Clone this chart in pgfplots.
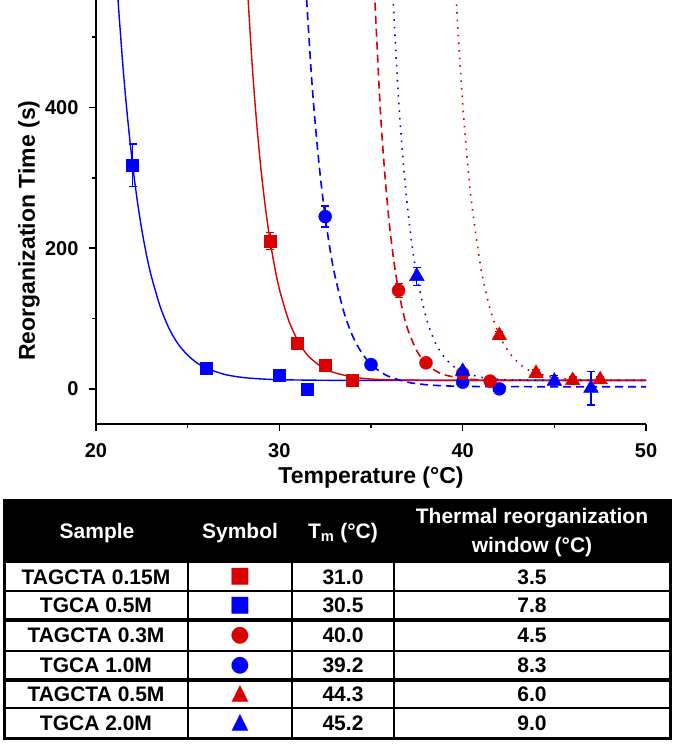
\documentclass[border=0pt]{standalone}
\usepackage{pgfplots}
\pgfplotsset{compat=1.18}
\usepackage{fontspec}
\setmainfont{Liberation Sans}
\newfontfamily\symfont{DejaVu Sans}
\definecolor{myred}{RGB}{218,0,0}
\definecolor{myblue}{RGB}{0,0,255}
\newcommand{\tabfont}{\fontsize{21}{29}\selectfont\bfseries}
\begin{document}
\begin{tikzpicture}[x=1pt,y=1pt]
\path[use as bounding box] (0,0) rectangle (677,-746);
\begin{axis}[
  at={(96pt,-424pt)}, anchor=south west,
  width=550pt, height=424pt, scale only axis,
  xmin=20, xmax=50, ymin=-50, ymax=553,
  axis x line*=bottom, axis y line*=left,
  axis line style={line width=2.2pt,-},
  xtick={20,30,40,50}, ytick={0,200,400},
  minor xtick={25,35,45}, minor ytick={100,300,500},
  tick align=outside,
  major tick length=7pt, minor tick length=4pt,
  every tick/.style={line width=1.6pt, black},
  /pgf/number format/assume math mode=true,
  ticklabel style={font=\fontsize{20}{20}\selectfont\bfseries},
  xticklabel style={yshift=-9pt},
  yticklabel style={xshift=-7pt},
  xlabel={Temperature (°C)},
  xlabel style={font=\fontsize{23}{23}\selectfont\bfseries, at={(axis description cs:0.5,-0.127)}, anchor=center},
  ylabel={Reorganization Time (s)},
  ylabel style={font=\fontsize{23}{23}\selectfont\bfseries, at={(axis description cs:-0.122,0.456)}, anchor=center},
  clip mode=individual,
]
% fitted curves
\addplot[myblue, line width=1.4pt, smooth, no markers] coordinates {
(21.1,594)(21.25,535)(21.5,449)(21.75,378)(22,318)(22.25,268)(22.5,226)(22.75,191)(23,162)(23.5,117)(24,85)(24.5,63)(25,48)(25.5,37)(26,29.6)(27,20.6)(28,16.2)(29,14.1)(30,13)(32,12.3)(35,12)(50,12)};
\addplot[myred, line width=1.4pt, smooth, no markers] coordinates {
(28.2,597)(28.5,468)(28.75,382)(29,312)(29.25,256)(29.5,210)(29.75,173)(30,142)(30.5,98)(31,69)(31.5,49)(32,37)(32.5,28)(33,23)(34,16.7)(35,14)(36,12.9)(38,12.2)(40,12)(50,12)};
\addplot[myblue, line width=1.6pt, smooth, no markers, dash pattern=on 8pt off 5pt] coordinates {
(31.4,591)(31.75,446)(32,365)(32.25,299)(32.5,245)(32.75,201)(33,165)(33.5,111)(34,75)(34.5,51)(35,35)(35.5,24.5)(36,17.4)(37,9.4)(38,5.9)(39,4.3)(40,3.6)(42,3.1)(50,3)};
\addplot[myred, line width=1.6pt, smooth, no markers, dash pattern=on 8pt off 5pt] coordinates {
(35.15,586)(35.5,401)(35.75,307)(36,235)(36.25,181)(36.5,140)(36.75,109)(37,85)(37.5,54)(38,36)(38.5,26)(39,20)(40,14.6)(41,12.9)(42,12.3)(44,12)(50,12)};
\addplot[myblue, line width=1.6pt, smooth, no markers, dash pattern=on 1.6pt off 6pt] coordinates {
(36.1,612)(36.2,555)(36.5,414)(36.75,325)(37,256)(37.25,202)(37.5,160)(38,102)(38.5,66)(39,45)(39.5,32)(40,24)(41,16.5)(42,13.6)(43,12.6)(45,12.1)(50,12)};
\addplot[myred, line width=1.6pt, smooth, no markers, dash pattern=on 1.6pt off 6pt] coordinates {
(39.6,579)(39.75,507)(40,406)(40.25,326)(40.5,262)(41,171)(41.5,113)(42,76)(42.5,53)(43,38)(43.5,28)(44,22.4)(45,16.2)(46,13.7)(47,12.7)(48,12.3)(50,12)};
% data points
\pgfplotsset{ebar/.style={error bars/.cd, y dir=both, y explicit,
   error bar style={line width=1.3pt}, error mark options={rotate=90, line width=1.3pt, mark size=4pt}}}
\addplot[only marks, myblue, mark=square*, mark size=6pt, ebar] coordinates {
(22,318) +- (0,30) (26,30) +- (0,0) (30,19) +- (0,0) (31.5,0) +- (0,0)};
\addplot[only marks, myred, mark=square*, mark size=6pt, ebar] coordinates {
(29.5,210) +- (0,12) (31,65) +- (0,0) (32.5,33) +- (0,0) (34,12) +- (0,0)};
\addplot[only marks, myblue, mark=*, mark size=6.5pt, ebar] coordinates {
(32.5,245) +- (0,15) (35,34.5) +- (0,0) (40,9.5) +- (0,0) (42,0) +- (0,0)};
\addplot[only marks, myred, mark=*, mark size=6.5pt, ebar] coordinates {
(36.5,140) +- (0,10) (38,37) +- (0,0) (40,22) +- (0,0) (41.5,11) +- (0,0)};
\addplot[only marks, myblue, mark=triangle*, mark size=8.5pt, ebar] coordinates {
(37.5,160) +- (0,13) (40,25) +- (0,0) (45,11) +- (0,8) (47,1) +- (0,24)};
\addplot[only marks, myred, mark=triangle*, mark size=8.5pt, ebar] coordinates {
(42,76) +- (0,6) (44,22) +- (0,6) (46,12) +- (0,5) (47.5,13) +- (0,5)};
\end{axis}
% ---------- table ----------
\fill[black] (4,-500) rectangle (670,-563);
\draw[line width=2pt] (4,-591) -- (670,-591);
\draw[line width=4pt] (4,-620) -- (670,-620);
\draw[line width=2pt] (4,-651) -- (670,-651);
\draw[line width=4pt] (4,-680) -- (670,-680);
\draw[line width=2pt] (4,-708) -- (670,-708);
\draw[line width=2.5pt] (188,-563) -- (188,-738);
\draw[line width=2.5pt] (292,-563) -- (292,-738);
\draw[line width=2.5pt] (394,-563) -- (394,-738);
\draw[line width=3pt] (4,-500) rectangle (670,-738);
\begin{scope}[every node/.style={font=\tabfont, inner sep=0pt}]
\node[text=white] at (97,-533) {Sample};
\node[text=white] at (240,-533) {Symbol};
\node[text=white] at (343,-533) {T\textsubscript{m} (°C)};
\node[text=white, align=center] at (532,-533) {Thermal reorganization\\window (°C)};
\node at (96,-577) {TAGCTA 0.15M};
\node at (96,-605.5) {TGCA 0.5M};
\node at (96,-635.5) {TAGCTA 0.3M};
\node at (96,-665.5) {TGCA 1.0M};
\node at (96,-694) {TAGCTA 0.5M};
\node at (96,-723) {TGCA 2.0M};
\node at (343,-577) {31.0};
\node at (343,-605.5) {30.5};
\node at (343,-635.5) {40.0};
\node at (343,-665.5) {39.2};
\node at (343,-694) {44.3};
\node at (343,-723) {45.2};
\node at (532,-577) {3.5};
\node at (532,-605.5) {7.8};
\node at (532,-635.5) {4.5};
\node at (532,-665.5) {8.3};
\node at (532,-694) {6.0};
\node at (532,-723) {9.0};
\end{scope}
\begin{scope}[every node/.style={font=\symfont\fontsize{22}{22}\selectfont, inner sep=0pt}]
\node[text=myred] at (240,-577) {■};
\node[text=myblue] at (240,-605.5) {■};
\node[text=myred] at (240,-635.5) {●};
\node[text=myblue] at (240,-665.5) {●};
\node[text=myred] at (240,-694) {▲};
\node[text=myblue] at (240,-723) {▲};
\end{scope}
\end{tikzpicture}
\end{document}
